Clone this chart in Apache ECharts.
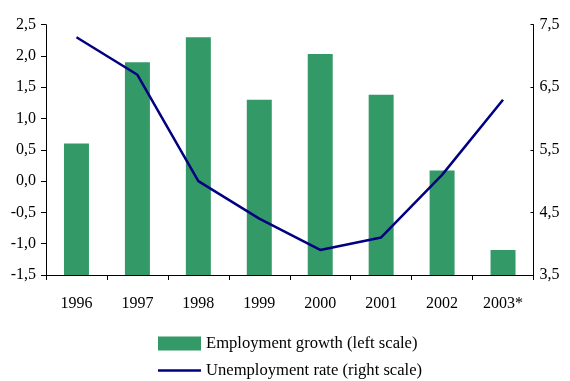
<!DOCTYPE html>
<html>
<head>
<meta charset="utf-8">
<script src="https://cdn.jsdelivr.net/npm/echarts@6/dist/echarts.min.js"></script>
<style>html,body{margin:0;padding:0;background:#fff;}#c{width:570px;height:381px;}</style>
</head>
<body>
<div id="c"></div>
<script>
const years = ['1996','1997','1998','1999','2000','2001','2002','2003*'];
const employmentGrowth = [0.6, 1.9, 2.3, 1.3, 2.03, 1.38, 0.17, -1.1];
const unemploymentRate = [7.3, 6.7, 5.0, 4.4, 3.9, 4.1, 5.1, 6.3];
const leftTicks = [-1.5, -1.0, -0.5, 0.0, 0.5, 1.0, 1.5, 2.0, 2.5];
const rightTicks = [3.5, 4.5, 5.5, 6.5, 7.5];
const seriesNames = ['Employment growth (left scale)', 'Unemployment rate (right scale)'];

const font = 'Liberation Serif';
const fmt = v => v.toFixed(1).replace('.', ',');
const leftMin = leftTicks[0], leftMax = leftTicks[leftTicks.length - 1];
const legendText = {fontFamily: font, fontSize: 16.6, color: '#000'};

const chart = echarts.init(document.getElementById('c'), null, {renderer: 'canvas'});
chart.setOption({
  animation: false,
  backgroundColor: '#fff',
  textStyle: {fontFamily: font, color: '#000'},
  grid: {left: 46, right: 36.5, top: 24.7, bottom: 106, containLabel: false},
  legend: [{
    orient: 'horizontal', left: 158, top: 335, padding: 0,
    itemWidth: 43, itemHeight: 14, itemGap: 5,
    textStyle: legendText,
    data: [{name: seriesNames[0], icon: 'rect'}]
  }, {
    orient: 'horizontal', left: 158, top: 362, padding: 0,
    itemWidth: 43, itemHeight: 2.5, itemGap: 5,
    textStyle: legendText,
    data: [{name: seriesNames[1], icon: 'rect'}]
  }],
  xAxis: {
    type: 'category', data: years, boundaryGap: true,
    axisLine: {onZero: false, lineStyle: {color: '#000', width: 1}},
    axisTick: {show: true, inside: false, length: 5, lineStyle: {color: '#000'}},
    axisLabel: {fontFamily: font, fontSize: 16, color: '#000', margin: 21, interval: 0},
    splitLine: {show: false}
  },
  yAxis: [{
    type: 'value', min: leftMin, max: leftMax, interval: 0.5,
    axisLine: {show: true, lineStyle: {color: '#000', width: 1}},
    axisTick: {show: true, inside: false, length: 5, lineStyle: {color: '#000'}},
    axisLabel: {fontFamily: font, fontSize: 16, color: '#000', margin: 10, formatter: fmt},
    splitLine: {show: false}
  }, {
    type: 'value', position: 'right', min: rightTicks[0], max: rightTicks[rightTicks.length - 1],
    axisLine: {show: true, lineStyle: {color: '#000', width: 1}},
    axisTick: {show: true, inside: true, length: 3, customValues: rightTicks, lineStyle: {color: '#000'}},
    axisLabel: {fontFamily: font, fontSize: 16, color: '#000', margin: 6, customValues: rightTicks, formatter: fmt},
    splitLine: {show: false}
  }],
  series: [{
    name: seriesNames[0], type: 'custom', yAxisIndex: 0,
    itemStyle: {color: '#339966'},
    data: employmentGrowth.map((v, i) => [i, v]),
    encode: {x: 0, y: 1},
    renderItem: function (params, api) {
      const idx = api.value(0), v = api.value(1);
      const top = api.coord([idx, v]);
      const bot = api.coord([idx, leftMin]);
      const w = api.size([1, 0])[0] * 0.41;
      return {
        type: 'rect',
        shape: {x: top[0] - w / 2, y: top[1], width: w, height: bot[1] - top[1]},
        style: {fill: '#339966'}
      };
    }
  }, {
    name: seriesNames[1], type: 'line', yAxisIndex: 1,
    data: unemploymentRate, symbol: 'none', showSymbol: false,
    lineStyle: {color: '#000080', width: 2.5}, itemStyle: {color: '#000080'}
  }]
});
</script>
</body>
</html>
